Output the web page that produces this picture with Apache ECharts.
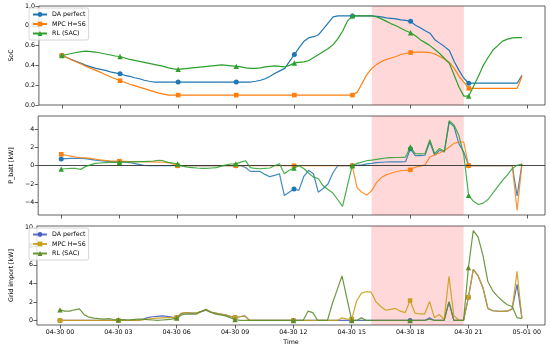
<!DOCTYPE html>
<html><head><meta charset="utf-8">
<script src="https://cdn.jsdelivr.net/npm/echarts@6/dist/echarts.min.js"></script>
<style>html,body{margin:0;padding:0;background:#fff}#c{width:550px;height:348px}</style>
</head><body><div id="c"></div>
<script>
// ---- data (15-min resolution, hours since 04-30 00:00) ----
const hours = Array.from({length: 96}, (_, i) => i * 0.25);
const tickHours = [0, 3, 6, 9, 12, 15, 18, 21, 24];
const tickLabels = ['04-30 00','04-30 03','04-30 06','04-30 09','04-30 12','04-30 15','04-30 18','04-30 21','05-01 00'];
const shadeStart = 16, shadeEnd = 20.75;
const seriesLabels = ['DA perfect', 'MPC H=56', 'RL (SAC)'];

const socDA = [
 0.50,0.48,0.46,0.44,0.42,0.40,0.385,0.37,0.36,0.35,0.335,0.325,
 0.315,0.30,0.29,0.275,0.265,0.25,0.24,0.232,0.232,0.232,0.232,0.232,
 0.232,0.232,0.232,0.232,0.232,0.232,0.232,0.232,0.232,0.232,0.232,0.232,
 0.232,0.232,0.232,0.232,0.24,0.25,0.265,0.29,0.32,0.345,0.37,0.44,
 0.51,0.58,0.645,0.68,0.69,0.71,0.77,0.83,0.89,0.90,0.90,0.90,
 0.90,0.90,0.90,0.90,0.90,0.895,0.89,0.88,0.875,0.87,0.86,0.855,
 0.845,0.805,0.78,0.75,0.725,0.66,0.625,0.59,0.55,0.44,0.35,0.27,
 0.22,0.22,0.22,0.22,0.22,0.22,0.22,0.22,0.22,0.22,0.22,0.30];
const socMPC = [
 0.50,0.48,0.455,0.435,0.415,0.39,0.37,0.35,0.33,0.305,0.285,0.265,
 0.245,0.23,0.21,0.195,0.18,0.165,0.15,0.135,0.12,0.11,0.10,0.10,
 0.10,0.10,0.10,0.10,0.10,0.10,0.10,0.10,0.10,0.10,0.10,0.10,
 0.10,0.10,0.10,0.10,0.10,0.10,0.10,0.10,0.10,0.10,0.10,0.10,
 0.10,0.10,0.10,0.10,0.10,0.10,0.10,0.10,0.10,0.10,0.10,0.10,
 0.10,0.13,0.22,0.31,0.37,0.41,0.44,0.46,0.475,0.49,0.51,0.52,
 0.53,0.535,0.535,0.535,0.53,0.515,0.49,0.465,0.43,0.37,0.29,0.23,
 0.168,0.168,0.168,0.168,0.168,0.168,0.168,0.168,0.168,0.168,0.168,0.29];
const socRL = [
 0.50,0.51,0.52,0.53,0.54,0.545,0.54,0.535,0.525,0.515,0.505,0.495,
 0.49,0.475,0.46,0.45,0.44,0.43,0.42,0.41,0.40,0.39,0.375,0.365,
 0.36,0.365,0.37,0.375,0.38,0.385,0.39,0.395,0.40,0.405,0.40,0.395,
 0.39,0.385,0.375,0.37,0.37,0.375,0.385,0.39,0.395,0.39,0.385,0.40,
 0.425,0.43,0.435,0.45,0.48,0.51,0.54,0.57,0.61,0.67,0.75,0.85,
 0.90,0.90,0.90,0.90,0.90,0.89,0.87,0.845,0.82,0.80,0.775,0.75,
 0.73,0.70,0.66,0.63,0.60,0.56,0.52,0.47,0.42,0.30,0.18,0.09,
 0.09,0.19,0.29,0.40,0.48,0.555,0.60,0.645,0.665,0.678,0.68,0.68];

const pDA = [
 0.75,0.78,0.80,0.80,0.80,0.78,0.70,0.62,0.55,0.50,0.47,0.45,
 0.44,0.42,0.35,0.25,0.15,0.05,0,0,0,0,0,0,
 0,0,0,0,0,0,0,0,0,0,0,0,
 0,0,-0.2,-0.62,-0.62,-0.62,-0.95,-1.2,-1.05,-0.88,-3.25,-2.9,
 -2.55,-2.7,-1.2,-0.5,-0.88,-2.9,-2.5,-2.0,-0.8,0,0,0,
 0,0.05,0.1,0.2,0.26,0.33,0.38,0.41,0.42,0.43,0.43,0.44,
 1.85,1.1,1.1,1.15,2.6,1.15,1.69,1.5,4.8,4.25,2.4,1.5,
 0,0,0,0,0,0,0,0,0,0,-3.3,0.2];
const pMPC = [
 1.25,1.15,1.05,0.95,0.88,0.85,0.80,0.72,0.65,0.58,0.53,0.50,
 0.50,0.48,0.46,0.45,0.44,0.44,0.43,0.42,0.40,0.38,0.35,0.2,
 0,0,0,0,0,0,0,0,0,0,0,0,
 0,0,0,0,0,0,0,0,0,0,0,0,
 0,0,0,0,0,0,0,0,0,0,0,0,
 0,-2.4,-2.9,-3.2,-2.75,-1.85,-1.3,-1.0,-0.82,-0.66,-0.55,-0.5,
 -0.45,-0.15,-0.05,0.1,0.95,1.2,1.4,1.65,2.05,2.45,2.6,2.6,
 0,0,0,0,0,0,0,0,0,0,-4.9,0.2];
const pRL = [
 -0.36,-0.33,-0.3,-0.3,-0.4,-0.1,0.1,0.25,0.3,0.33,0.37,0.37,
 0.37,0.4,0.42,0.43,0.44,0.44,0.48,0.52,0.6,0.55,0.37,0.3,
 0.19,-0.05,-0.15,-0.2,-0.25,-0.28,-0.3,-0.25,-0.2,-0.05,0.1,0.19,
 0.2,0.4,0.55,-0.2,-0.3,-0.33,-0.28,-0.25,0.0,0.22,-0.88,-0.5,
 -0.25,0.0,-0.3,-0.8,-1.25,-1.4,-2.2,-2.6,-3.0,-3.7,-4.45,-2.2,
 0,0.26,0.4,0.55,0.62,0.7,0.78,0.85,0.88,0.9,0.92,0.95,
 2.05,1.32,1.3,1.32,2.85,1.32,1.9,1.58,4.95,4.45,3.3,1.2,
 -3.25,-3.9,-4.25,-4.1,-3.7,-3.0,-2.3,-1.6,-1.0,-0.3,0.05,0.18];

const gDA = [
 0,0,0,0,0,0,0,0,0,0,0,0,
 0,0,0,0,0,0.1,0.3,0.4,0.45,0.5,0.45,0.35,
 0.3,0.75,0.85,0.8,0.8,0.95,1.12,0.9,0.8,0.7,0.6,0.45,
 0.32,0.4,0.5,0,0,0,0,0,0,0,0,0,
 0,0,0,0,0,0,0,0,0,0,0,0,
 0,0,0,0,0,0,0,0,0,0,0,0,
 0,0,0,0,0.3,0,0,0,2.0,0,0,0,
 2.5,5.5,4.8,3.5,1.3,1.05,1.0,0.98,1.0,1.25,3.9,0.25];
const gMPC = [
 0,0,0,0,0,0,0,0,0,0,0,0,
 0,0,0,0,0,0.05,0.15,0.2,0.25,0.28,0.3,0.3,
 0.32,0.8,0.86,0.82,0.8,0.95,1.14,0.9,0.8,0.7,0.61,0.45,
 0.32,0.4,0.5,0,0,0,0,0,0,0,0,0,
 0,0,0,0,0,0,0,0,0,0,0.28,0.15,
 0.15,2.1,2.95,3.1,3.05,2.0,1.5,1.1,1.2,1.3,1.0,0.85,
 2.15,0.8,0.7,0.7,2.05,0.3,0.64,0.1,4.76,0.5,0.05,0,
 2.5,5.5,4.8,3.5,1.3,1.05,1.0,0.98,1.0,1.25,5.3,0.25];
const gRL = [
 1.14,1.0,1.0,1.15,1.25,0.6,0.35,0.25,0.2,0.15,0.2,0.1,
 0.07,0.1,0.05,0.1,0.15,0.15,0.1,0.05,0,0.05,0.1,0.15,
 0.25,0.6,0.7,0.68,0.68,0.95,1.2,0.9,0.68,0.6,0.5,0.3,
 0.1,0,0,0,0,0,0,0,0,0,0,0,
 0,0,0,1.0,0.85,0,0,0,1.8,3.3,4.8,2.4,
 0,0,0.28,0,0,0,0,0,0,0,0,0,
 0,0,0,0,0.15,0,0,0,2.0,0,0,0,
 5.7,9.7,9.0,7.0,4.2,3.2,2.6,2.1,1.7,1.5,0.3,0.2];

// ---- chart ----
const FONT = 'DejaVu Sans';
const FS = 6.3;
const topColors = ['#1f77b4', '#ff7f0e', '#2ca02c'];
const botColors = ['#4a5fc0', '#c9a01a', '#5e8c2e'];
const symbols = ['circle', 'rect', 'triangle'];
const symSizes = [5, 4.6, 5.4];

const gridTops = [6, 116, 226];
const grids = gridTops.map(t => ({left: 26, top: t, width: 519, height: 99, show: true,
  borderColor: '#3a3a3a', borderWidth: 0.8, backgroundColor: 'transparent'}));

const xAxes = [0, 1, 2].map(i => ({
  type: 'value', gridIndex: i, min: -1.1875, max: 24.9375, position: 'bottom',
  axisLine: {show: false, onZero: false}, splitLine: {show: false},
  axisTick: {show: true, customValues: tickHours, length: 3.5, inside: false, lineStyle: {color: '#3a3a3a', width: 0.8}},
  axisLabel: {show: i === 2, customValues: tickHours, margin: 4, fontSize: FS, color: '#000', fontFamily: FONT,
    formatter: v => tickLabels[tickHours.indexOf(v)] || ''},
  name: i === 2 ? 'Time' : '', nameLocation: 'middle', nameGap: 14,
  nameTextStyle: {fontSize: FS, color: '#000', fontFamily: FONT}
}));

function yAx(i, min, max, ticks, fmt, name, gap) {
  return {type: 'value', gridIndex: i, min, max, position: 'left',
    axisLine: {show: false, onZero: false}, splitLine: {show: false},
    axisTick: {show: true, customValues: ticks, length: 3.5, lineStyle: {color: '#3a3a3a', width: 0.8}},
    axisLabel: {customValues: ticks, margin: 4, fontSize: FS, color: '#000', fontFamily: FONT, formatter: fmt},
    name, nameLocation: 'middle', nameRotate: 90, nameGap: gap,
    nameTextStyle: {fontSize: FS, color: '#000', fontFamily: FONT}};
}
const yAxes = [
  yAx(0, 0, 1, [0, 0.2, 0.4, 0.6, 0.8, 1.0], v => v.toFixed(1), 'SoC', 13),
  yAx(1, -5.4, 5.45, [-4, -2, 0, 2, 4], v => (v < 0 ? '\u2212' + (-v) : '' + v), 'P_batt [kW]', 13),
  yAx(2, -0.49, 10.19, [0, 2, 4, 6, 8, 10], v => '' + v, 'Grid import [kW]', 13)
];

function mk(id, vals, k, panel, colors, opacity) {
  const s = {
    type: 'line', name: id, xAxisIndex: panel, yAxisIndex: panel,
    data: hours.map((h, i) => [h, vals[i]]),
    symbol: symbols[k], showSymbol: true, showAllSymbol: true,
    symbolSize: (v, p) => (p.dataIndex % 12 === 0 ? symSizes[k] : 0),
    lineStyle: {color: colors[k], width: 1.2, opacity},
    itemStyle: {color: colors[k]},
    animation: false, silent: true, z: 3 + k
  };
  if (k === 0) {
    s.markArea = {silent: true, itemStyle: {color: 'rgba(255,0,0,0.15)'},
      data: [[{xAxis: shadeStart}, {xAxis: shadeEnd}]]};
  }
  return s;
}

const series = [
  mk('s0', socDA, 0, 0, topColors, 1), mk('s1', socMPC, 1, 0, topColors, 1), mk('s2', socRL, 2, 0, topColors, 1),
  mk('p0', pDA, 0, 1, topColors, 0.85), mk('p1', pMPC, 1, 1, topColors, 0.85), mk('p2', pRL, 2, 1, topColors, 0.85),
  mk('g0', gDA, 0, 2, botColors, 0.9), mk('g1', gMPC, 1, 2, botColors, 0.9), mk('g2', gRL, 2, 2, botColors, 0.9)
];
series[3].markLine = {silent: true, symbol: 'none', animation: false,
  lineStyle: {color: '#333', width: 0.9, type: 'solid'}, label: {show: false}, data: [{yAxis: 0}]};

const labelMap = {s0: seriesLabels[0], s1: seriesLabels[1], s2: seriesLabels[2],
  g0: seriesLabels[0], g1: seriesLabels[1], g2: seriesLabels[2]};
function legend(ids, top) {
  return {data: ids, left: 29, top, orient: 'vertical', selectedMode: false,
    itemWidth: 14, itemHeight: 6, itemGap: 1.5, padding: [2.5, 3, 2.5, 3],
    backgroundColor: 'rgba(255,255,255,0.8)', borderColor: '#cccccc', borderWidth: 0.8, borderRadius: 2,
    textStyle: {fontSize: FS, color: '#000', fontFamily: FONT, lineHeight: 8},
    formatter: n => labelMap[n]};
}

const chart = echarts.init(document.getElementById('c'), null, {renderer: 'canvas'});
chart.setOption({
  animation: false,
  textStyle: {fontFamily: FONT},
  grid: grids, xAxis: xAxes, yAxis: yAxes,
  legend: [legend(['s0', 's1', 's2'], 8), legend(['g0', 'g1', 'g2'], 228)],
  series
});
</script></body></html>
